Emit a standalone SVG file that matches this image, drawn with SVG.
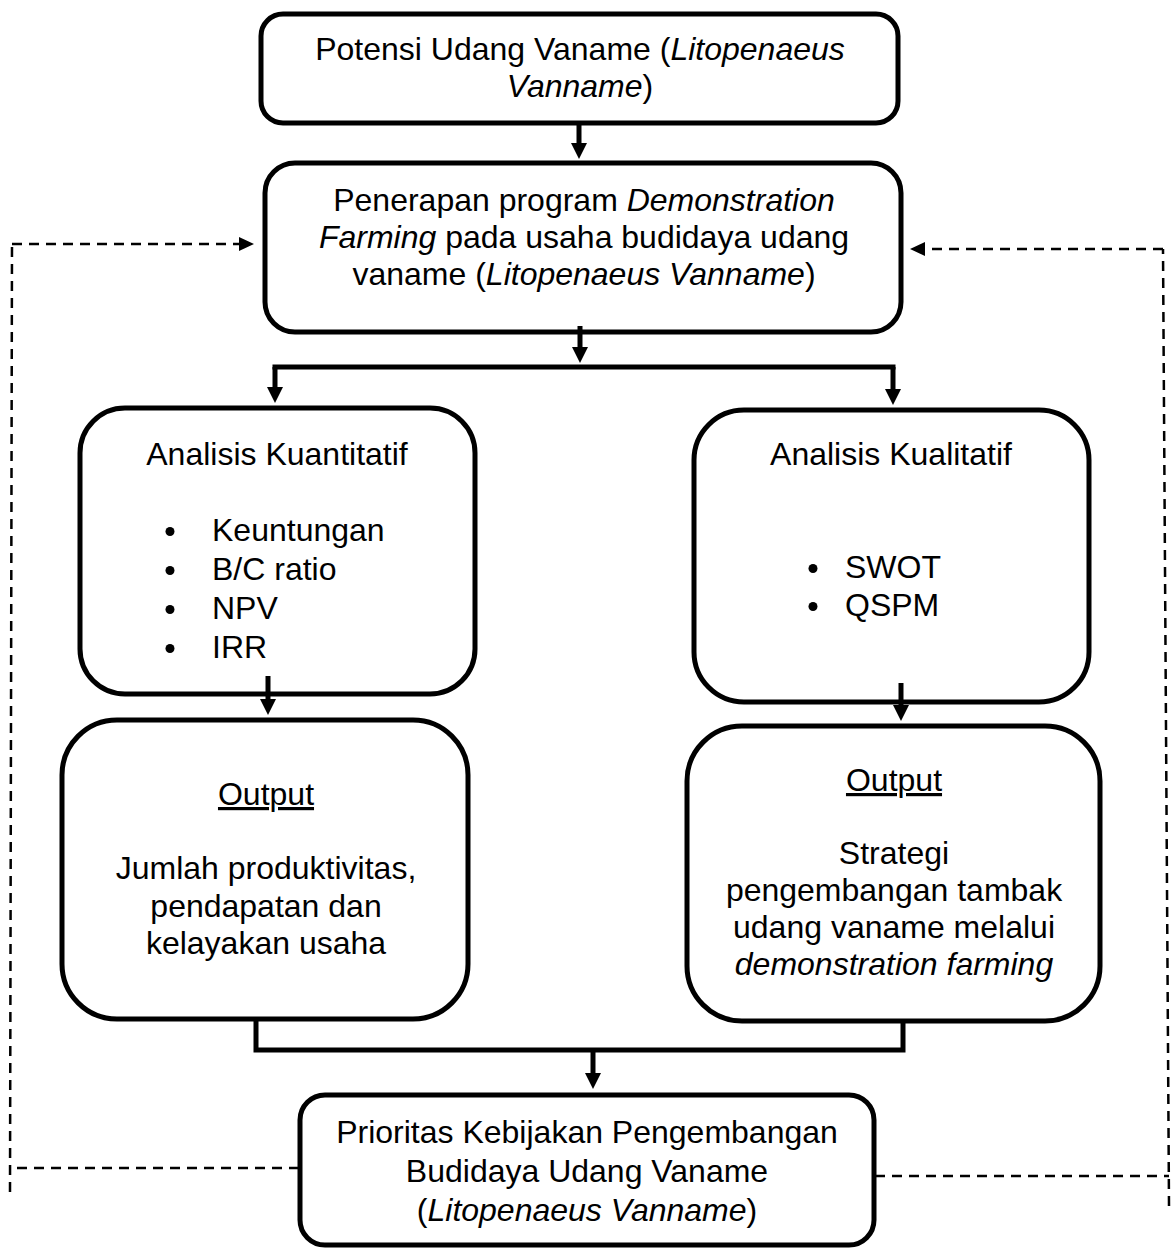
<svg xmlns="http://www.w3.org/2000/svg" width="1174" height="1249" viewBox="0 0 1174 1249">
<style>
  .box { fill: #ffffff; stroke: #000000; stroke-width: 5; }
  .t { font-family: "Liberation Sans", Arial, sans-serif; font-size: 32px; fill: #000000; }
  .c { text-anchor: middle; }
  .i { font-style: italic; }
  .u { text-decoration: underline; }
  .solid { fill: none; stroke: #000000; stroke-width: 5; }
  .dash { fill: none; stroke: #000000; stroke-width: 2.5; stroke-dasharray: 10 7; }
  .bullet { fill: #000000; }
</style>
<defs>
  <marker id="ah" markerUnits="userSpaceOnUse" markerWidth="16" markerHeight="16" refX="0" refY="8" orient="auto">
    <path d="M0,0 L16,8 L0,16 z" fill="#000000"/>
  </marker>
  <marker id="dh" markerUnits="userSpaceOnUse" markerWidth="15" markerHeight="14" refX="0" refY="7" orient="auto">
    <path d="M0,0 L15,7 L0,14 z" fill="#000000"/>
  </marker>
</defs>

<g id="node-potensi">
  <rect class="box" x="261" y="14" width="637" height="109" rx="22"/>
  <text class="t c" x="580" y="60">Potensi Udang Vaname (<tspan class="i">Litopenaeus</tspan></text>
  <text class="t c" x="580" y="97"><tspan class="i">Vanname</tspan>)</text>
</g>

<g id="node-penerapan">
  <rect class="box" x="265" y="163" width="636" height="169" rx="30"/>
  <text class="t c" x="584" y="211">Penerapan program <tspan class="i">Demonstration</tspan></text>
  <text class="t c" x="584" y="248"><tspan class="i">Farming</tspan> pada usaha budidaya udang</text>
  <text class="t c" x="584" y="285">vaname (<tspan class="i">Litopenaeus Vanname</tspan>)</text>
</g>

<g id="node-kuantitatif">
  <rect class="box" x="80" y="408" width="395" height="286" rx="45"/>
  <text class="t c" x="277" y="465">Analisis Kuantitatif</text>
  <circle class="bullet" cx="170" cy="531.5" r="4.5"/>
  <text class="t" x="212" y="541">Keuntungan</text>
  <circle class="bullet" cx="170" cy="570.5" r="4.5"/>
  <text class="t" x="212" y="580">B/C ratio</text>
  <circle class="bullet" cx="170" cy="609.5" r="4.5"/>
  <text class="t" x="212" y="619">NPV</text>
  <circle class="bullet" cx="170" cy="648.5" r="4.5"/>
  <text class="t" x="212" y="658">IRR</text>
</g>

<g id="node-kualitatif">
  <rect class="box" x="694" y="410" width="395" height="292" rx="50"/>
  <text class="t c" x="891" y="465">Analisis Kualitatif</text>
  <circle class="bullet" cx="813" cy="568.5" r="4.5"/>
  <text class="t" x="845" y="578">SWOT</text>
  <circle class="bullet" cx="813" cy="606.5" r="4.5"/>
  <text class="t" x="845" y="616">QSPM</text>
</g>

<g id="node-output-kuantitatif">
  <rect class="box" x="62" y="720" width="406" height="299" rx="55"/>
  <text class="t c u" x="266" y="805">Output</text>
  <text class="t c" x="266" y="879">Jumlah produktivitas,</text>
  <text class="t c" x="266" y="917">pendapatan dan</text>
  <text class="t c" x="266" y="954">kelayakan usaha</text>
</g>

<g id="node-output-kualitatif">
  <rect class="box" x="687" y="726" width="413" height="295" rx="55"/>
  <text class="t c u" x="894" y="791">Output</text>
  <text class="t c" x="894" y="864">Strategi</text>
  <text class="t c" x="894" y="901">pengembangan tambak</text>
  <text class="t c" x="894" y="938">udang vaname melalui</text>
  <text class="t c i" x="894" y="975">demonstration farming</text>
</g>

<g id="node-prioritas">
  <rect class="box" x="300" y="1095" width="574" height="150" rx="25"/>
  <text class="t c" x="587" y="1143">Prioritas Kebijakan Pengembangan</text>
  <text class="t c" x="587" y="1182">Budidaya Udang Vaname</text>
  <text class="t c" x="587" y="1221">(<tspan class="i">Litopenaeus Vanname</tspan>)</text>
</g>

<g id="connectors">
  <line class="solid" x1="579" y1="123" x2="579" y2="143" marker-end="url(#ah)"/>
  <line class="solid" x1="580" y1="326" x2="580" y2="347" marker-end="url(#ah)"/>
  <line class="solid" x1="272.5" y1="367" x2="895.5" y2="367"/>
  <line class="solid" x1="275" y1="367" x2="275" y2="387" marker-end="url(#ah)"/>
  <line class="solid" x1="893" y1="367" x2="893" y2="389" marker-end="url(#ah)"/>
  <line class="solid" x1="268" y1="676" x2="268" y2="699" marker-end="url(#ah)"/>
  <line class="solid" x1="901" y1="683" x2="901" y2="705" marker-end="url(#ah)"/>
  <path class="solid" d="M256,1019 V1050 H903 V1021"/>
  <line class="solid" x1="593" y1="1050" x2="593" y2="1073" marker-end="url(#ah)"/>
  <line class="dash" x1="299" y1="1168" x2="10" y2="1168"/>
  <line class="dash" x1="10" y1="1192" x2="12" y2="244"/>
  <line class="dash" x1="12" y1="244" x2="239" y2="244" marker-end="url(#dh)"/>
  <line class="dash" x1="875" y1="1176" x2="1169" y2="1176"/>
  <line class="dash" x1="1169" y1="1206" x2="1163" y2="249"/>
  <line class="dash" x1="1163" y1="249" x2="925" y2="249" marker-end="url(#dh)"/>
</g>
</svg>
